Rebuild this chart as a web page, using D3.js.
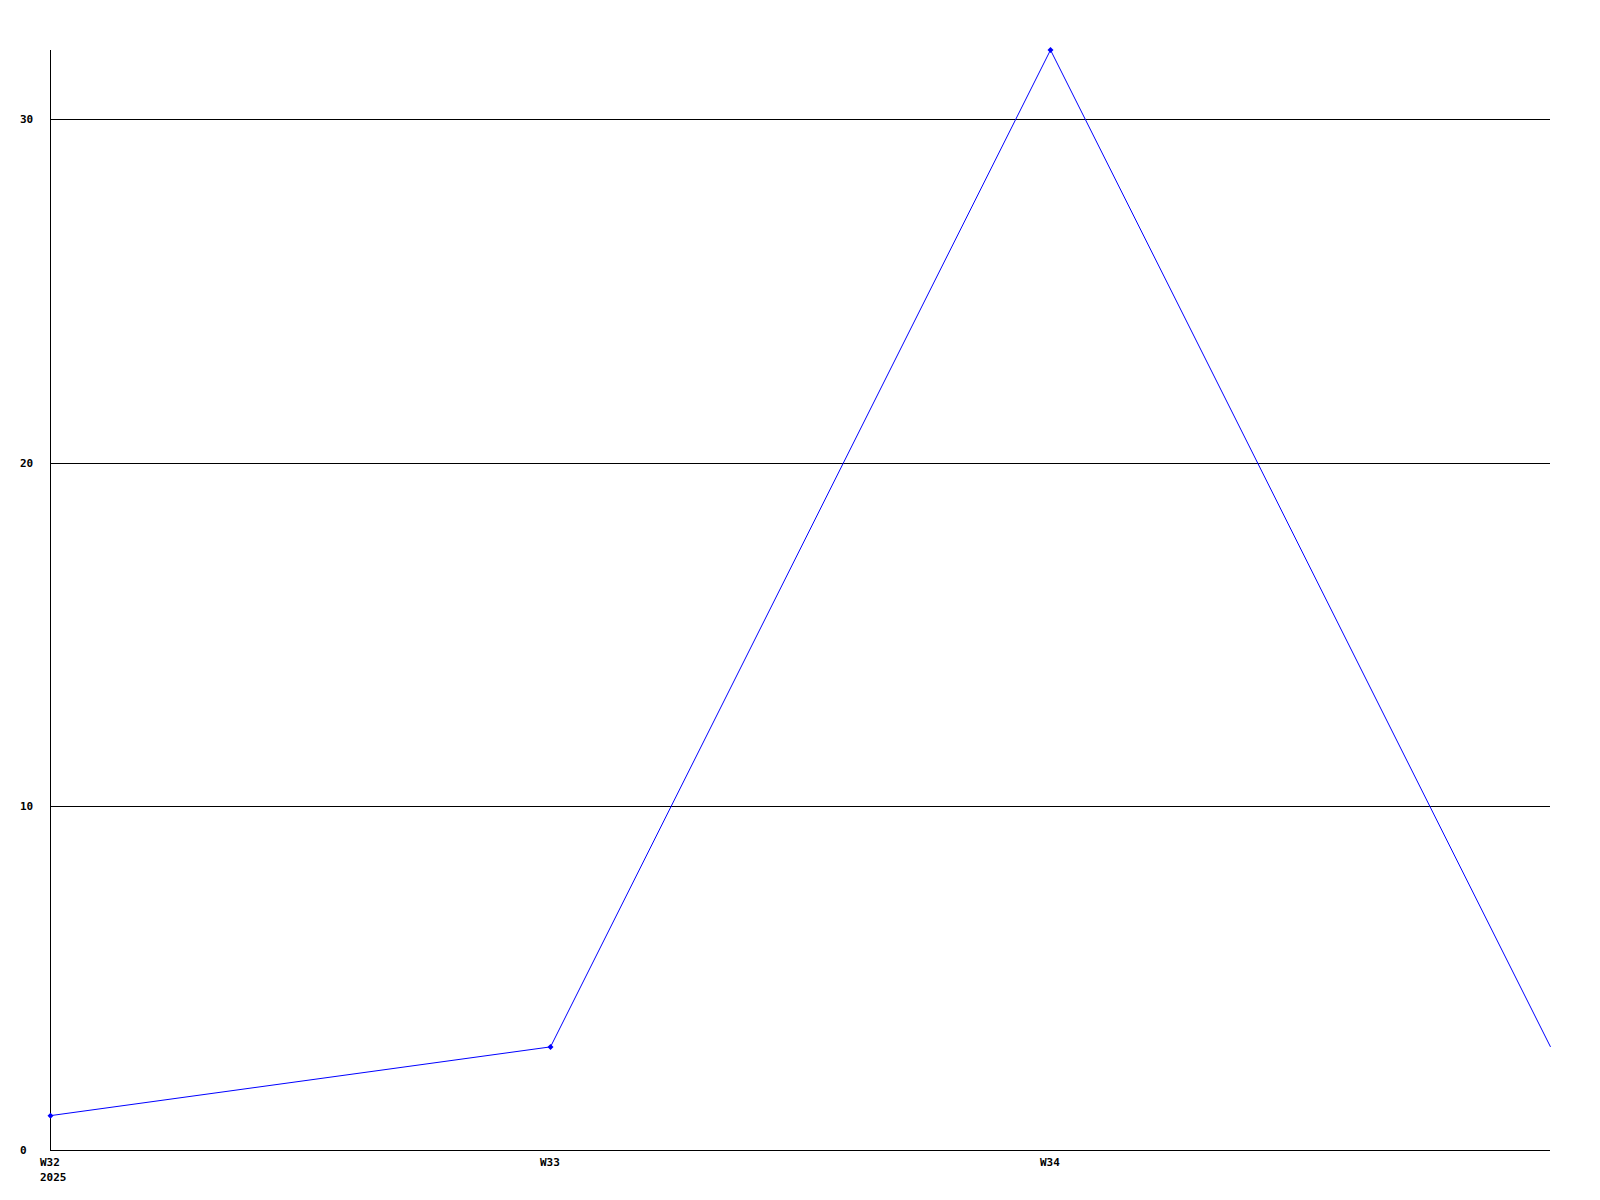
<!DOCTYPE html>
<html><head><meta charset="utf-8">
<script src="https://cdn.jsdelivr.net/npm/d3@7"></script>
<style>
html,body{margin:0;padding:0;background:#fff;}
text{font-family:"DejaVu Sans Mono","Liberation Mono",monospace;font-weight:bold;font-size:11px;fill:#000;}
</style></head>
<body>
<script>
const weeks = ["W32", "W33", "W34", "W35"];
const values = [1, 3, 32, 3];
const xTickLabels = ["W32", "W33", "W34"];
const yearLabel = "2025";
const yTicks = [0, 10, 20, 30];
const yMax = 32;

const W = 1600, H = 1200;
const svg = d3.select("body").append("svg").attr("width", W).attr("height", H);

const x = d3.scalePoint().domain(weeks).range([50, 1550]);
const y = d3.scaleLinear().domain([0, yMax]).range([1150, 50]);

// gridlines
svg.append("g").selectAll("line").data(yTicks.filter(d => d > 0)).join("line")
  .attr("x1", 50).attr("x2", 1550)
  .attr("y1", d => Math.round(y(d)) + 0.5).attr("y2", d => Math.round(y(d)) + 0.5)
  .attr("stroke", "#000").attr("stroke-width", 1).attr("shape-rendering", "crispEdges");

// y labels
svg.append("g").selectAll("text").data(yTicks).join("text")
  .attr("x", 20).attr("y", d => Math.round(y(d)))
  .attr("dominant-baseline", "central")
  .text(d => d);

// axes lines
svg.append("line").attr("x1", 50.5).attr("x2", 50.5).attr("y1", 50).attr("y2", 1151)
  .attr("stroke", "#000").attr("shape-rendering", "crispEdges");
svg.append("line").attr("x1", 50).attr("x2", 1550).attr("y1", 1150.5).attr("y2", 1150.5)
  .attr("stroke", "#000").attr("shape-rendering", "crispEdges");

// x labels
svg.append("g").selectAll("text").data(xTickLabels).join("text")
  .attr("x", d => x(d) - 10).attr("y", 1166)
  .text(d => d);
svg.append("text").attr("x", x(weeks[0]) - 10).attr("y", 1181).text(yearLabel);

// line
const line = d3.line().x((d, i) => x(weeks[i]) + 0.5).y(d => y(d));
svg.append("path").datum(values).attr("d", line)
  .attr("fill", "none").attr("stroke", "#0000ff").attr("stroke-width", 1);

// markers (not on the last, clipped point)
svg.append("g").selectAll("path").data(values.slice(0, 3)).join("path")
  .attr("transform", (d, i) => `translate(${x(weeks[i]) + 0.5},${y(d)})`)
  .attr("d", "M0,-3L3,0L0,3L-3,0Z")
  .attr("fill", "#0000ff");
</script>
</body></html>
